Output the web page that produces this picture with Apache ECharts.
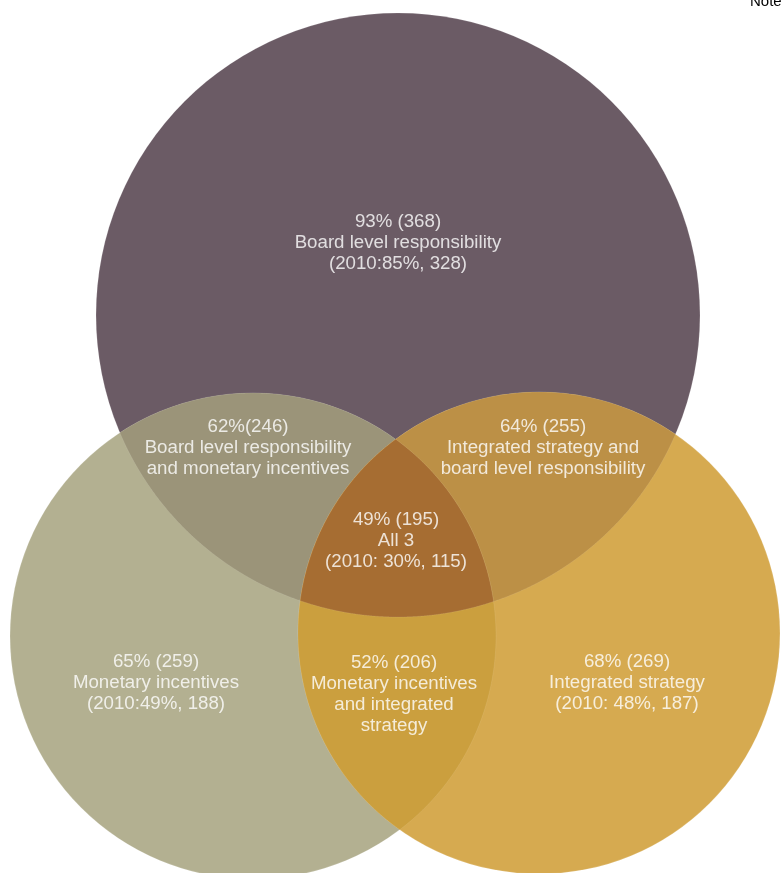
<!DOCTYPE html>
<html>
<head>
<meta charset="utf-8">
<script src="https://cdn.jsdelivr.net/npm/echarts@6/dist/echarts.min.js"></script>
<style>
  html, body { margin: 0; padding: 0; background: #ffffff; }
  #chart { width: 781px; height: 873px; }
</style>
</head>
<body>
<div id="chart"></div>
<script>
// Three responsibility/incentive sets and their overlaps
const setNames = ['Board level responsibility', 'Monetary incentives', 'Integrated strategy'];

// Region membership (indices into setNames), drawn in this order
const regionSets = [[0], [1], [2], [0, 1], [0, 2], [1, 2], [0, 1, 2]];
const regionShares = ['93%', '65%', '68%', '62%', '64%', '52%', '49%'];
const regionCounts = [368, 259, 269, 246, 255, 206, 195];
const regionNames = [
  'Board level responsibility',
  'Monetary incentives',
  'Integrated strategy',
  'Board level responsibility\nand monetary incentives',
  'Integrated strategy and\nboard level responsibility',
  'Monetary incentives\nand integrated\nstrategy',
  'All 3'
];
const prior2010Shares = ['85%', '49%', '48%', null, null, null, '30%'];
const prior2010Counts = [328, 188, 187, null, null, null, 115];

// Layout of the diagram in plot units (x right, y down)
const circleCenters = [[398, 315], [253, 636], [539, 633]];
const circleRadii = [302, 243, 241];
const labelAnchors = [[398, 243], [156, 683], [627, 683], [248, 448], [543, 448], [394, 694], [396, 541]];
const regionColors = ['#6b5b65', '#b3b091', '#d6aa50', '#9b9479', '#bc9046', '#cb9f3e', '#a66d32'];

function headline(i) {
  const gap = i === 3 ? '' : ' ';
  return regionShares[i] + gap + '(' + regionCounts[i] + ')';
}
function priorLine(i) {
  if (prior2010Shares[i] == null) return null;
  const gap = (i === 2 || i === 6) ? ' ' : '';
  return '(2010:' + gap + prior2010Shares[i] + ', ' + prior2010Counts[i] + ')';
}
function labelText(i) {
  const lines = [headline(i), regionNames[i]];
  const p = priorLine(i);
  if (p) lines.push(p);
  return lines.join('\n');
}

// Boundary of the intersection of several circles, as a polygon
function intersectionPolygon(circles) {
  const pts = [];
  const N = 2880;
  circles.forEach(function (c, ci) {
    for (let k = 0; k < N; k++) {
      const a = (k / N) * Math.PI * 2;
      const x = c.x + c.r * Math.cos(a);
      const y = c.y + c.r * Math.sin(a);
      let inside = true;
      circles.forEach(function (o, oi) {
        if (oi !== ci) {
          const d = Math.hypot(x - o.x, y - o.y);
          if (d > o.r + 0.01) inside = false;
        }
      });
      if (inside) pts.push([x, y]);
    }
  });
  let cx = 0, cy = 0;
  pts.forEach(function (p) { cx += p[0]; cy += p[1]; });
  cx /= pts.length; cy /= pts.length;
  pts.sort(function (p, q) {
    return Math.atan2(p[1] - cy, p[0] - cx) - Math.atan2(q[1] - cy, q[0] - cx);
  });
  return pts;
}

const chart = echarts.init(document.getElementById('chart'), null, { renderer: 'canvas' });

const option = {
  animation: false,
  backgroundColor: '#ffffff',
  title: {
    text: 'Note',
    left: 750,
    top: -6,
    padding: 0,
    textStyle: { color: '#000000', fontSize: 15, fontWeight: 'normal', fontFamily: 'Liberation Sans, Arial, sans-serif' }
  },
  grid: { left: 0, right: 0, top: 0, bottom: 0 },
  xAxis: { type: 'value', min: 0, max: 781, show: false },
  yAxis: { type: 'value', min: 0, max: 873, inverse: true, show: false },
  series: [
    {
      type: 'custom',
      coordinateSystem: 'cartesian2d',
      silent: true,
      clip: false,
      data: regionSets.map(function (s, i) { return [i]; }),
      renderItem: function (params, api) {
        const i = api.value(0);
        const sets = regionSets[i];
        const circles = sets.map(function (k) {
          const c = api.coord(circleCenters[k]);
          const r = api.size([circleRadii[k], 0])[0];
          return { x: c[0], y: c[1], r: r };
        });
        if (circles.length === 1) {
          return {
            type: 'circle',
            shape: { cx: circles[0].x, cy: circles[0].y, r: circles[0].r },
            style: { fill: regionColors[i], stroke: 'rgba(255,255,255,0.18)', lineWidth: 0.8 }
          };
        }
        return {
          type: 'polygon',
          shape: { points: intersectionPolygon(circles) },
          style: { fill: regionColors[i], stroke: 'rgba(255,255,255,0.15)', lineWidth: 0.6 }
        };
      }
    },
    {
      type: 'scatter',
      silent: true,
      symbolSize: 0,
      data: labelAnchors.map(function (p, i) {
        return {
          value: p,
          label: { formatter: labelText(i) }
        };
      }),
      label: {
        show: true,
        position: 'inside',
        color: '#ffffff',
        fontSize: 18.7,
        lineHeight: 21,
        align: 'center',
        verticalAlign: 'middle',
        fontFamily: 'Liberation Sans, Arial, sans-serif'
      }
    }
  ]
};

chart.setOption(option);
</script>
</body>
</html>
